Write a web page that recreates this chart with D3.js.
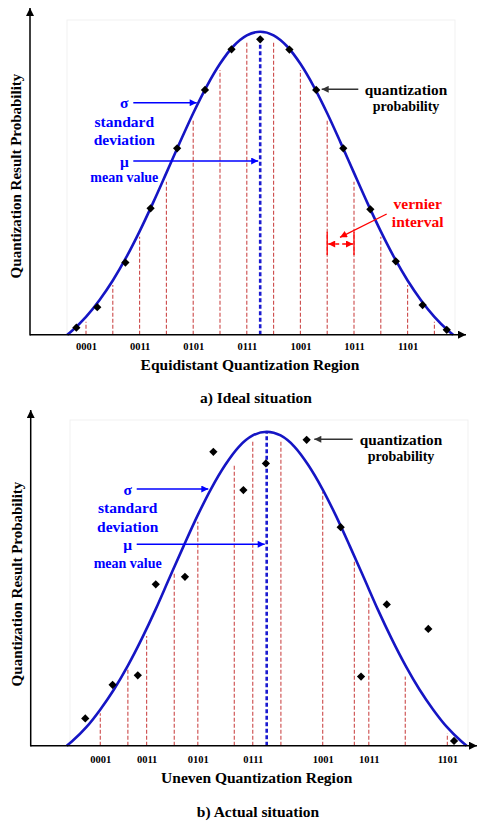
<!DOCTYPE html>
<html>
<head>
<meta charset="utf-8">
<script src="https://cdn.jsdelivr.net/npm/d3@7"></script>
<style>
body{margin:0;background:#fff}
svg text{font-family:"Liberation Serif","DejaVu Serif","Times New Roman",serif;font-weight:bold}
</style>
</head>
<body>
<svg width="477" height="821"></svg>
<script>
// code labels under the x axis
var tickCodes = ["0001","0011","0101","0111","1001","1011","1101"]

// a) ideal situation: equidistant region boundaries (input units) and how high each dashed line reaches
var idealBounds = [1,2,3,4,5,6,7,8,9,10,11,12,13,14]
var idealBoundTop = [0.043,0.164,0.323,0.505,0.709,0.874,0.967,0.967,0.874,0.709,0.505,0.323,0.164,0.043]
var idealTicks = [1,3,5,7,9,11,13]
var idealMean = 7.5, idealMeanTop = 0.975
var idealPointX = [0.64,1.42,2.47,3.41,4.40,5.44,6.43,7.50,8.59,9.59,10.60,11.61,12.56,13.56,14.46]
var idealPointY = [0.023,0.091,0.238,0.417,0.615,0.808,0.942,0.975,0.941,0.808,0.615,0.414,0.242,0.098,0.016]
var idealCurveX = [0.30,0.5,1.0,1.5,2.0,2.5,3.0,3.5,4.0,4.5,5.0,5.5,6.0,6.5,7.0,7.5,
                   8.0,8.5,9.0,9.5,10.0,10.5,11.0,11.5,12.0,12.5,13.0,13.5,14.0,14.5,14.70]
var idealCurveY = [0,0.015,0.059,0.114,0.179,0.255,0.341,0.435,0.534,0.634,0.731,0.819,0.894,0.952,0.988,1.0,
                   0.988,0.952,0.894,0.819,0.731,0.634,0.534,0.435,0.341,0.255,0.179,0.114,0.059,0.015,0]

// b) actual situation: uneven boundaries
var actualBounds = [1.29,2.32,3.02,4.05,4.93,6.29,6.98,8.03,9.59,10.77,11.31,12.67,14.24]
var actualBoundTop = [0.103,0.246,0.349,0.554,0.713,0.894,0.968,0.970,0.809,0.586,0.475,0.220,0.039]
var actualTicks = [1.29,3.02,4.93,6.98,9.59,11.31,14.24]
var actualMean = 7.5, actualMeanTop = 1.0
var actualPointX = [0.73,1.75,2.69,3.36,4.45,5.51,6.63,7.47,8.99,10.26,11.02,11.98,13.53,14.49]
var actualPointY = [0.087,0.194,0.224,0.514,0.538,0.936,0.814,0.899,0.974,0.696,0.220,0.450,0.372,0.015]
var actualCurveX = [0.04,0.25,0.77,1.28,1.80,2.32,2.84,3.36,3.87,4.39,4.91,5.43,5.95,6.46,6.98,7.50,
                    8.02,8.54,9.05,9.57,10.09,10.61,11.13,11.64,12.16,12.68,13.20,13.72,14.23,14.75,14.96]
var actualCurveY = [0,0.015,0.059,0.114,0.179,0.255,0.341,0.435,0.534,0.634,0.731,0.819,0.894,0.952,0.988,1.0,
                    0.988,0.952,0.894,0.819,0.731,0.634,0.534,0.435,0.341,0.255,0.179,0.114,0.059,0.015,0]

var svg = d3.select("svg")
  .style("font-family", '"Liberation Serif","DejaVu Serif","Times New Roman",serif')
  .style("font-weight", "bold")
var defs = svg.append("defs")

function marker(id, color, w, h){
  defs.append("marker")
    .attr("id", id)
    .attr("viewBox", "0 0 10 10")
    .attr("refX", 10).attr("refY", 5)
    .attr("markerWidth", w).attr("markerHeight", h)
    .attr("markerUnits", "userSpaceOnUse")
    .attr("orient", "auto-start-reverse")
    .append("path")
      .attr("d", "M0,0L10,5L0,10z")
      .attr("fill", color)
}
marker("axisArrow", "#000", 11, 8)
marker("blueArrow", "#0000ff", 9, 7)
marker("grayArrow", "#333", 9, 7)
marker("redArrow", "#ff0000", 9, 7)

var curveColor = "#1515c4"
var dashRed = "#cc4a4a"
var textBlue = "#0000ff"

function drawPanel(c){
  var g = svg.append("g")
  var x = d3.scaleLinear().domain([0, 15]).range(c.xRange)
  var y = d3.scaleLinear().domain([0, 1]).range([c.base, c.peak])

  //faint plot frame
  g.append("rect")
    .attr("x", c.frame[0]).attr("y", c.frame[1])
    .attr("width", c.frame[2] - c.frame[0]).attr("height", c.base - c.frame[1])
    .attr("fill", "none").attr("stroke", "#f1f1f1")

  //region boundaries
  g.selectAll(".bound")
    .data(c.bounds)
    .enter()
    .append("line")
      .classed("bound", true)
      .attr("x1", d=> x(d)).attr("x2", d=> x(d))
      .attr("y1", y(0))
      .attr("y2", (d, i)=> y(c.boundTop[i]))
      .attr("stroke", dashRed)
      .attr("stroke-width", 1.1)
      .attr("stroke-dasharray", "4,2")

  //mean line
  g.append("line")
    .attr("x1", x(c.mean)).attr("x2", x(c.mean))
    .attr("y1", y(0)).attr("y2", y(c.meanTop))
    .attr("stroke", "#1a1ad0")
    .attr("stroke-width", 2.6)
    .attr("stroke-dasharray", "4,2.5")

  //gaussian curve
  var line = d3.line()
    .x(d=> x(d[0]))
    .y(d=> y(d[1]))
    .curve(d3.curveMonotoneX)
  g.append("path")
    .datum(c.curveX.map((v, i)=> [v, c.curveY[i]]))
    .attr("d", line)
    .attr("fill", "none")
    .attr("stroke", curveColor)
    .attr("stroke-width", 2.6)

  //points
  var sym = d3.symbol().type(d3.symbolSquare).size(34)
  g.selectAll(".pt")
    .data(c.pointX.map((v, i)=> [v, c.pointY[i]]))
    .enter()
    .append("path")
      .classed("pt", true)
      .attr("d", sym)
      .attr("transform", d=> `translate(${x(d[0])},${y(d[1])}) rotate(45)`)
      .attr("fill", "#000")

  //tick labels
  var axis = g.append("g")
    .attr("transform", `translate(0,${c.base})`)
    .call(d3.axisBottom(x).tickValues(c.ticks).tickFormat((d, i)=> tickCodes[i]).tickSize(0).tickPadding(c.tickPad))
  axis.select(".domain").remove()
  axis.attr("font-family", null).attr("font-size", null)
  axis.selectAll("text").style("font-size", "10.5px").attr("fill", "#000")

  //axes with arrows
  g.append("line")
    .attr("x1", c.left).attr("x2", c.left)
    .attr("y1", c.base + 0.75).attr("y2", c.top)
    .attr("stroke", "#000").attr("stroke-width", 1.5)
    .attr("marker-end", "url(#axisArrow)")
  g.append("line")
    .attr("x1", c.left).attr("x2", c.right)
    .attr("y1", c.base).attr("y2", c.base)
    .attr("stroke", "#000").attr("stroke-width", 1.5)
    .attr("marker-end", "url(#axisArrow)")

  //axis titles
  g.append("text")
    .attr("transform", `translate(${c.yLabel[0]},${c.yLabel[1]}) rotate(-90)`)
    .attr("text-anchor", "middle")
    .attr("dominant-baseline", "central")
    .style("font-size", "15px")
    .text("Quantization Result Probability")
  g.append("text")
    .attr("x", c.xLabel[0]).attr("y", c.xLabel[1])
    .attr("text-anchor", "middle")
    .attr("dominant-baseline", "central")
    .style("font-size", "15.5px")
    .text(c.xTitle)
  g.append("text")
    .attr("x", c.caption[0]).attr("y", c.caption[1])
    .attr("text-anchor", "middle")
    .attr("dominant-baseline", "central")
    .style("font-size", "15.5px")
    .text(c.captionText)

  //sigma / mu annotations
  var a = c.ann
  function label(txt, px, py, size, color){
    g.append("text")
      .attr("x", px).attr("y", py)
      .attr("text-anchor", "middle")
      .attr("dominant-baseline", "central")
      .style("font-size", size)
      .attr("fill", color)
      .text(txt)
  }
  function arrow(x1, y1, x2, y2, color, id, w){
    return g.append("line")
      .attr("x1", x1).attr("y1", y1).attr("x2", x2).attr("y2", y2)
      .attr("stroke", color).attr("stroke-width", w || 1.5)
      .attr("marker-end", `url(#${id})`)
  }
  label("σ", a.cx, a.sigma, "15.5px", textBlue)
  arrow(a.cx + 9, a.sigma, a.sigmaTo, a.sigma, textBlue, "blueArrow")
  label("standard", a.cx, a.std, "15.5px", textBlue)
  label("deviation", a.cx, a.dev, "15.5px", textBlue)
  label("μ", a.cx, a.mu, "15.5px", textBlue)
  arrow(a.cx + 9, a.mu, x(c.mean) - 2, a.mu, textBlue, "blueArrow")
  label("mean value", a.cx, a.mv, "14px", textBlue)

  label("quantization", a.qx, a.q, "15.3px", "#000")
  label("probability", a.qx, a.q + 17.5, "14px", "#000")
  arrow(a.qFrom, a.q, a.qTo, a.q, "#333", "grayArrow")

  return {g: g, x: x, y: y}
}

var panelA = drawPanel({
  xRange: [59.2, 461.2], base: 334.7, peak: 31.7, top: 8, left: 30, right: 466,
  frame: [67, 20, 455],
  bounds: idealBounds, boundTop: idealBoundTop, ticks: idealTicks,
  mean: idealMean, meanTop: idealMeanTop,
  pointX: idealPointX, pointY: idealPointY,
  curveX: idealCurveX, curveY: idealCurveY,
  tickPad: 8,
  yLabel: [16, 176], xLabel: [250, 364], xTitle: "Equidistant Quantization Region",
  caption: [256, 397], captionText: "a) Ideal situation",
  ann: {cx: 124.3, sigma: 102.7, sigmaTo: 196.7, std: 121, dev: 139.3, mu: 161, mv: 177.7,
        qx: 406, q: 89.3, qFrom: 358.3, qTo: 321.7}
})

var panelB = drawPanel({
  xRange: [65.7, 467.7], base: 745.7, peak: 431.7, top: 410, left: 30.7, right: 477,
  frame: [70, 420, 468],
  bounds: actualBounds, boundTop: actualBoundTop, ticks: actualTicks,
  mean: actualMean, meanTop: actualMeanTop,
  pointX: actualPointX, pointY: actualPointY,
  curveX: actualCurveX, curveY: actualCurveY,
  tickPad: 9.8,
  yLabel: [17, 584], xLabel: [256.7, 777], xTitle: "Uneven Quantization Region",
  caption: [258, 811], captionText: "b) Actual situation",
  ann: {cx: 127.7, sigma: 489, sigmaTo: 208.3, std: 507.7, dev: 526.7, mu: 544.3, mv: 563.3,
        qx: 401, q: 439.3, qFrom: 352.7, qTo: 314.3}
})

// vernier interval annotation on the ideal panel
var tg = panelA.g, tx = panelA.x
tg.selectAll(".vern")
  .data([10, 11])
  .enter()
  .append("line")
    .classed("vern", true)
    .attr("x1", d=> tx(d)).attr("x2", d=> tx(d))
    .attr("y1", 231.7).attr("y2", 255)
    .attr("stroke", "#ff0000").attr("stroke-width", 1.3)
tg.append("line")
  .attr("x1", tx(10) + 1).attr("x2", tx(11) - 1)
  .attr("y1", 244).attr("y2", 244)
  .attr("stroke", "#ff0000").attr("stroke-width", 1.5)
  .attr("stroke-dasharray", "4,3")
  .attr("marker-start", "url(#redArrow)")
  .attr("marker-end", "url(#redArrow)")
tg.append("line")
  .attr("x1", 386.7).attr("y1", 214).attr("x2", 340).attr("y2", 237.3)
  .attr("stroke", "#ff0000").attr("stroke-width", 1.3)
  .attr("marker-end", "url(#redArrow)")
tg.append("text").attr("x", 417.7).attr("y", 203.3)
  .attr("text-anchor", "middle").attr("dominant-baseline", "central")
  .style("font-size", "15.5px").attr("fill", "#ff0000").text("vernier")
tg.append("text").attr("x", 417.7).attr("y", 221.7)
  .attr("text-anchor", "middle").attr("dominant-baseline", "central")
  .style("font-size", "15.5px").attr("fill", "#ff0000").text("interval")
</script>
</body>
</html>
